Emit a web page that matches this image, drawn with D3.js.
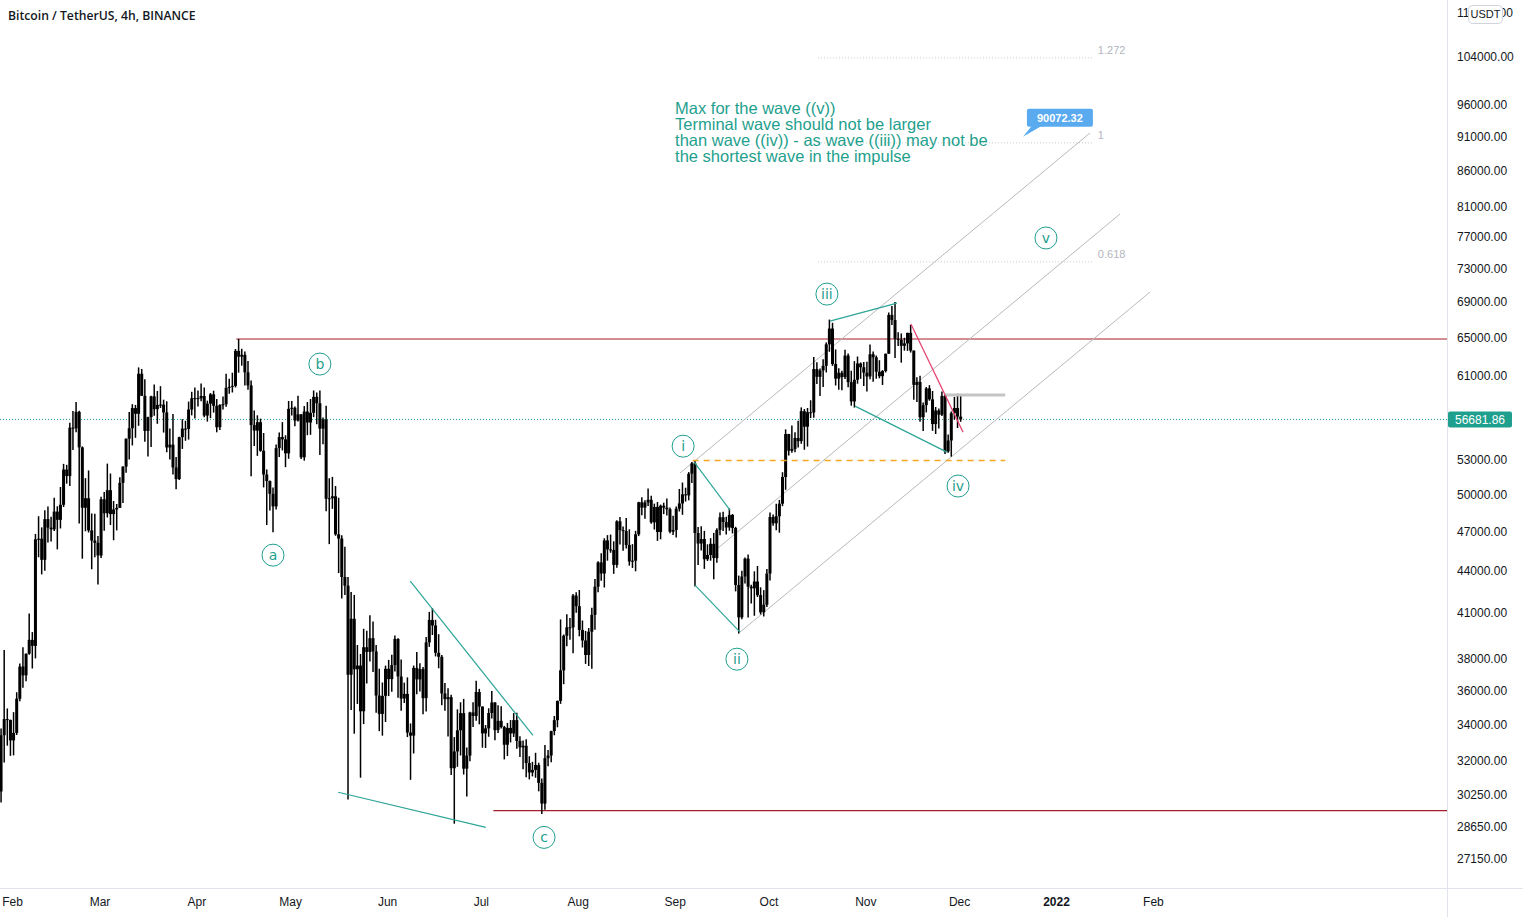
<!DOCTYPE html>
<html><head><meta charset="utf-8">
<script src="https://cdn.jsdelivr.net/npm/d3@7"></script>
<style>html,body{margin:0;padding:0;background:#fff;overflow:hidden}</style>
</head><body>
<svg id="chart" width="1523" height="917"></svg>
<script>
// ---------------- DATA (daily OHLC, BTC/USDT) ----------------
const startDate = "2021-01-28";
const firstOpen = 30400;
const highs = [
 33783,38531,34934,34288,
 34718,35896,37662,38708,38310,40955,39700,46794,48200,47310,48678,48985,48150,49707,49010,50620,52618,52530,56368,57493,58352,57508,54183,51374,52041,48424,48394,46638,
 49790,50200,52640,51773,49448,49200,51450,52402,54900,57387,58150,58081,61844,61683,60633,56938,58986,60100,59451,59930,58589,58430,55830,57200,53229,55073,56700,56559,58405,59368,59800,
 59490,60200,59791,58492,59251,59475,58650,58153,58894,61200,60670,61300,63777,64854,63800,63520,62500,60499,57526,57076,56757,55410,52130,51166,50567,54356,55460,56428,55196,58458,
 58458,57930,58973,57200,57963,58360,58650,59500,59300,59500,56862,58000,51367,51483,50700,49720,46686,45799,43546,42451,42250,38850,38270,39920,39791,40841,40411,38856,37338,36488,37534,
 37896,38225,39476,39289,37925,36480,36800,34068,37534,38400,37680,37451,39380,41064,41330,40527,39560,38200,36457,36137,35750,33298,34881,35298,35500,32730,34749,35297,36600,36100,
 35057,33977,34945,35967,35293,35118,35059,33929,34100,34262,34666,34679,33341,33114,33185,32249,31948,32435,31899,31063,32858,32591,33650,34500,35398,40550,39542,40900,40640,42316,42448,
 42599,40480,39780,39969,41350,43392,44700,45310,46454,46700,46743,46218,47886,48144,47372,48053,47160,46000,47033,49382,49757,49500,50500,49875,49230,49360,49150,49309,49658,48908,48246,
 48999,50450,51000,50558,51900,52780,52920,47340,47399,47033,45987,46460,46876,47250,48500,48557,48163,48843,48372,47359,43639,44000,44978,45200,42971,43950,44350,42790,42590,44132,
 48495,48336,49228,49536,51886,55750,55332,56100,55489,56561,57839,57680,57777,58532,62933,62378,61718,62695,64486,67000,66639,63732,61747,61500,63710,63293,61496,62499,62980,62359,62405,
 62437,64270,63500,63086,62595,61560,63286,67789,68530,69000,65600,65460,64990,65550,66401,63617,60840,60976,58320,59845,60029,59444,57875,57735,59398,59070,55280,57445,58865,59176,
 59041
];
const lows = [
 29842,31915,32825,32270,
 32296,33418,35362,36161,36570,38215,37351,37988,45000,43727,43995,46125,46202,47014,45600,47225,48947,50901,50710,53863,55477,47622,44892,47003,46905,44106,45000,43000,
 44950,47047,48100,47500,46300,47070,48882,49274,51845,53005,54269,54962,56078,58963,54600,53271,54123,57023,56270,57785,55450,53650,53000,51700,50427,51214,53950,54691,54800,57071,56769,
 57935,58428,56880,56478,56800,57333,55473,55700,57630,57903,59177,59300,59800,61301,62020,60000,59580,51541,54221,53329,53695,50583,47500,48658,46930,48753,53223,53813,52330,53068,
 57052,56035,56478,53046,52900,55200,55241,56900,56235,53400,54370,48600,46000,48800,46650,43825,42001,42250,30000,34850,33488,35200,31111,34031,36420,37800,37134,34684,33632,33379,34153,
 35666,35920,37170,35567,34800,35256,33300,31000,32397,35780,35936,34600,34757,38730,39506,38116,37365,35129,34803,33336,31251,28805,31683,32286,31275,30151,31973,33862,34225,34017,
 32712,32699,33316,34357,33125,33532,33777,32077,32261,33004,33306,32658,32202,31550,31133,31020,31179,31108,30407,29278,29482,31708,31924,33401,33851,35205,36383,38772,39200,38313,41000,
 39422,38690,37642,37508,37332,39853,42446,43261,42779,44742,45341,43770,44217,45971,45500,45660,44376,44203,43955,46622,48270,48004,49030,47600,47136,46250,46371,48371,48263,46853,46700,
 46512,48583,48316,49400,49500,50969,42843,44412,45513,44132,44722,44742,43370,44594,46682,47022,46750,47045,46829,42500,39600,40565,43069,40675,41646,40800,42098,40888,40753,41410,
 43283,47430,47088,46891,49022,50382,53357,53617,53661,54080,54415,53879,54167,56818,56850,60150,58963,59844,61322,63481,62000,60000,59562,59510,60650,59817,58000,57820,60174,60673,59945,
 59405,60624,60382,60677,60721,60050,61322,63273,66382,62822,64100,62333,63608,63576,63400,58574,58373,56474,55600,57353,58486,55610,55317,55837,57000,53500,53610,53256,56666,55875,
 56458
];
const closes = [
 33403,34316,34269,33115,
 33533,35510,37473,36926,38290,39186,38795,46374,46420,44807,47969,47287,47153,48577,47911,49133,52119,51552,55906,55842,57408,54087,48891,49676,47073,46276,46106,45135,
 49587,48440,50349,48374,48751,48882,50971,52375,54884,55851,57773,57221,61188,58968,55605,56900,58913,57665,58075,58107,57351,54083,54340,52303,51293,55025,55818,55791,57628,58730,58741,
 58720,58950,57051,58202,59116,57988,55950,58077,58142,59769,59860,59964,63578,62959,63159,61334,60006,56151,55633,56425,53787,51690,51125,50047,49004,54021,55033,54824,53555,57697,
 57798,56578,57169,53200,57436,56393,57314,58862,58240,55816,56670,49631,49670,49841,46762,46431,43538,42909,36964,40596,37304,37536,34770,38705,38402,39295,38436,35697,34616,35678,37333,
 36693,37569,39248,36857,35521,35796,33553,33380,37389,36676,37313,35543,39021,40516,40144,38349,38092,35820,35483,35600,31608,32509,33678,34663,31584,32283,34700,34494,35911,35045,
 33504,33786,34669,35286,33690,34220,33862,32875,33815,33502,34259,33086,32729,32820,31880,31383,31520,31778,30839,29790,32144,32287,33634,34258,35381,37237,39457,40019,40016,42206,41461,
 39845,39147,38207,39723,40862,42836,44614,43792,46285,45594,45554,44428,47793,47096,47019,45936,44686,44741,46762,49340,48905,49321,49546,47706,48960,46942,49058,48897,48767,46970,47100,
 48810,49246,49999,49915,51756,52663,46864,46048,46395,44851,45174,46026,44941,47112,48121,47738,47300,48314,47261,42960,40693,43574,44895,42839,42717,43208,42236,41034,41564,43790,
 48141,47634,48200,49224,51471,55315,53785,53951,54949,54659,57471,55996,57367,57347,61672,60875,61528,62009,64280,66001,62193,60688,61286,60852,63078,60328,58413,60575,62253,61859,61299,
 60911,63219,62896,61395,60937,61470,63273,67525,66947,64882,64774,64122,64380,65519,63606,60058,60344,56891,58052,59707,58622,56247,57541,57138,58960,53726,54721,57274,57776,56950,
 56681.86
];

// axis ticks
const priceTicks = [27150,28650,30250,32000,34000,36000,38000,41000,44000,47000,50000,53000,61000,65000,69000,73000,77000,81000,86000,91000,96000,104000,112000];
const monthTicks = ["2021-02-01","2021-03-01","2021-04-01","2021-05-01","2021-06-01","2021-07-01","2021-08-01","2021-09-01","2021-10-01","2021-11-01","2021-12-01","2022-01-01","2022-02-01"];
const monthLabels = ["Feb","Mar","Apr","May","Jun","Jul","Aug","Sep","Oct","Nov","Dec","2022","Feb"];

// drawings
const lastPrice = 56681.86;
const resistanceRay = {start:"2021-04-13T18:00:00Z", price:64854};
const supportRay = {start:"2021-07-05T00:00:00Z", price:29440};
const orangeLevel = {from:"2021-09-06T18:00:00Z", to:"2021-12-15T18:00:00Z", price:52920};
const grayLevel = {from:"2021-11-26T12:00:00Z", to:"2021-12-15T18:00:00Z", price:59050};
const waveLines = [
  [["2021-06-08T10:00:00Z",43240],["2021-07-17T16:00:00Z",33400]],
  [["2021-05-16T08:00:00Z",30360],["2021-07-02T14:00:00Z",28630]],
  [["2021-09-07T06:00:00Z",52770],["2021-09-18T17:00:00Z",48700]],
  [["2021-09-07T12:00:00Z",42950],["2021-09-21T22:00:00Z",39700]],
  [["2021-10-20T16:00:00Z",66830],["2021-11-11T03:00:00Z",68880]],
  [["2021-10-28T17:00:00Z",57960],["2021-11-27T03:00:00Z",53660]]
];
const pinkLine = [["2021-11-15T14:00:00Z",66500],["2021-12-02T06:00:00Z",55490]];
const channelLines = [
  [["2021-09-02T17:00:00Z",51810],["2022-01-11T21:00:00Z",91570]],
  [["2021-09-14T21:00:00Z",45700],["2022-01-21T12:00:00Z",79960]],
  [["2021-09-21T22:00:00Z",39700],["2022-01-31T02:00:00Z",70160]]
];
const fibRange = ["2021-10-16T21:00:00Z","2022-01-12T19:00:00Z"];
const fibLabels = ["0.618","1","1.272"];
const fibPrices = [73800, 90072.32, 103850];
const calloutAnchor = ["2021-12-21T10:00:00Z", 90072.32];
const calloutText = "90072.32";
const waveLabelNames = ["a","b","c","i","ii","iii","iv","v"];
const waveLabelDates = ["2021-04-25T12:00:00Z","2021-05-10T12:00:00Z","2021-07-21T05:00:00Z","2021-09-03T17:00:00Z","2021-09-20T22:00:00Z","2021-10-19T17:00:00Z","2021-11-30T16:00:00Z","2021-12-28T19:00:00Z"];
const waveLabelPrices = [45160,62190,28150,54200,37940,69920,50700,76810];
const noteAnchor = ["2021-09-01T03:00:00Z", 95480];
const noteLines = ["Max for the wave ((v))","Terminal wave should not be larger","than wave ((iv)) - as wave ((iii)) may not be","the shortest wave in the impulse"];
const title = "Bitcoin / TetherUS, 4h, BINANCE";

// ---------------- CHART ----------------
const W = 1523, H = 917, plotR = 1447, plotB = 888;
const svg = d3.select("#chart");
const fontAxis = "'Liberation Sans', Arial, sans-serif";
const teal = "#1f9f8e";

const x = d3.scaleUtc().domain([new Date(Date.UTC(2021,1,1)), new Date(Date.UTC(2022,0,1))]).range([12, 1056]);
const y = d3.scaleLog().domain([27150, 104000]).range([859, 57]);
const P = d => [x(new Date(d[0])), y(d[1])];

svg.append("rect").attr("width",W).attr("height",H).attr("fill","#fff");
svg.append("defs").append("clipPath").attr("id","plot").append("rect").attr("x",0).attr("y",0).attr("width",plotR).attr("height",plotB);
const g = svg.append("g").attr("clip-path","url(#plot)");

// candles
const DAY = 86400000, t0 = Date.parse(startDate + "T00:00:00Z");
const candles = closes.map((c,i) => ({t:new Date(t0 + i*DAY + DAY/2), o: i ? closes[i-1] : firstOpen, h: highs[i], l: lows[i], c}));

// horizontal lines
g.append("line").attr("x1",0).attr("x2",plotR).attr("y1",y(lastPrice)).attr("y2",y(lastPrice))
  .attr("stroke",teal).attr("stroke-width",1).attr("stroke-dasharray","1,2");
g.append("line").attr("x1",x(new Date(resistanceRay.start))).attr("x2",plotR).attr("y1",y(resistanceRay.price)).attr("y2",y(resistanceRay.price))
  .attr("stroke","#a61d29").attr("stroke-width",1.1);
g.append("line").attr("x1",x(new Date(supportRay.start))).attr("x2",plotR).attr("y1",y(supportRay.price)).attr("y2",y(supportRay.price))
  .attr("stroke","#a61d29").attr("stroke-width",1.1);

// fib levels
fibPrices.forEach((p,i) => {
  const yy = y(p), x2 = x(new Date(fibRange[1]));
  g.append("line").attr("x1",x(new Date(fibRange[0]))).attr("x2",x2).attr("y1",yy).attr("y2",yy)
    .attr("stroke","#c9ccd3").attr("stroke-width",1).attr("stroke-dasharray","1,2");
  g.append("text").attr("x",x2+5).attr("y",yy-4).text(fibLabels[i])
    .attr("font-family",fontAxis).attr("font-size",11).attr("fill","#b2b5be");
});

// channel
channelLines.forEach(l => {
  const a = P(l[0]), b = P(l[1]);
  g.append("line").attr("x1",a[0]).attr("y1",a[1]).attr("x2",b[0]).attr("y2",b[1]).attr("stroke","#b9b9b9").attr("stroke-width",1);
});

// candles drawn
const cg = g.append("g");
cg.selectAll("line.w").data(candles).join("line").attr("class","w")
  .attr("x1",d=>x(d.t)).attr("x2",d=>x(d.t)).attr("y1",d=>y(d.h)).attr("y2",d=>y(d.l))
  .attr("stroke","#000").attr("stroke-width",1.5);
cg.selectAll("rect.b").data(candles).join("rect").attr("class","b")
  .attr("x",d=>x(d.t)-1.5).attr("width",3)
  .attr("y",d=>y(Math.max(d.o,d.c))).attr("height",d=>Math.max(1, y(Math.min(d.o,d.c)) - y(Math.max(d.o,d.c))))
  .attr("fill","#000");

// orange dashed & gray level
g.append("line").attr("x1",x(new Date(orangeLevel.from))).attr("x2",x(new Date(orangeLevel.to)))
  .attr("y1",y(orangeLevel.price)).attr("y2",y(orangeLevel.price))
  .attr("stroke","#f6a623").attr("stroke-width",1.5).attr("stroke-dasharray","6,5");
g.append("line").attr("x1",x(new Date(grayLevel.from))).attr("x2",x(new Date(grayLevel.to)))
  .attr("y1",y(grayLevel.price)).attr("y2",y(grayLevel.price))
  .attr("stroke","#c4c4c4").attr("stroke-width",3);

// wave lines
waveLines.forEach(l => {
  const a = P(l[0]), b = P(l[1]);
  g.append("line").attr("x1",a[0]).attr("y1",a[1]).attr("x2",b[0]).attr("y2",b[1]).attr("stroke","#2ca597").attr("stroke-width",1.2);
});
{
  const a = P(pinkLine[0]), b = P(pinkLine[1]);
  g.append("line").attr("x1",a[0]).attr("y1",a[1]).attr("x2",b[0]).attr("y2",b[1]).attr("stroke","#e5406f").attr("stroke-width",1.2);
}

// wave labels
waveLabelNames.forEach((n,i) => {
  const cx = x(new Date(waveLabelDates[i])), cy = y(waveLabelPrices[i]);
  g.append("circle").attr("cx",cx).attr("cy",cy).attr("r",11).attr("fill","#fff").attr("stroke",teal).attr("stroke-width",1);
  g.append("text").attr("x",cx).attr("y",cy).attr("dy","0.35em").attr("text-anchor","middle").text(n)
    .attr("font-family","'DejaVu Sans', sans-serif").attr("font-size",14).attr("fill",teal);
});

// note text
{
  const nx = x(new Date(noteAnchor[0])), ny = y(noteAnchor[1]);
  const t = g.append("text").attr("font-family",fontAxis).attr("font-size",16.5).attr("fill",teal);
  noteLines.forEach((s,i) => t.append("tspan").attr("x",nx).attr("y",ny + i*16).attr("dy","0.35em").text(s));
}

// callout
{
  const ax = x(new Date(calloutAnchor[0])), ay = y(calloutAnchor[1]);
  const cg2 = g.append("g");
  cg2.append("path").attr("d",`M${ax+9},${ay-17} L${ax+19},${ay-17} L${ax},${ay-6} Z`).attr("fill","#5aaaf0");
  cg2.append("rect").attr("x",ax+4).attr("y",ay-34).attr("width",66).attr("height",18).attr("rx",2).attr("fill","#5aaaf0");
  cg2.append("text").attr("x",ax+37).attr("y",ay-25).attr("dy","0.35em").attr("text-anchor","middle").text(calloutText)
    .attr("font-family",fontAxis).attr("font-size",11).attr("font-weight","bold").attr("fill","#fff");
}

// borders
svg.append("line").attr("x1",plotR+0.5).attr("x2",plotR+0.5).attr("y1",0).attr("y2",H).attr("stroke","#e0e3eb");
svg.append("line").attr("x1",0).attr("x2",W).attr("y1",plotB+0.5).attr("y2",plotB+0.5).attr("stroke","#e0e3eb");

// y axis
const yAxis = svg.append("g").attr("transform",`translate(${plotR},0)`)
  .call(d3.axisRight(y).tickValues(priceTicks).tickFormat(d => d.toFixed(2)).tickSize(0).tickPadding(10));
yAxis.select(".domain").remove();
yAxis.selectAll("text").attr("font-family",fontAxis).attr("font-size",12).attr("fill","#131722");

// x axis
const xAxis = svg.append("g").attr("transform",`translate(0,${plotB})`)
  .call(d3.axisBottom(x).tickValues(monthTicks.map(d=>new Date(d+"T00:00:00Z"))).tickFormat((d,i)=>monthLabels[i]).tickSize(0).tickPadding(9));
xAxis.select(".domain").remove();
xAxis.selectAll("text").attr("font-family",fontAxis).attr("font-size",12).attr("fill","#131722")
  .attr("font-weight",(d,i)=>monthLabels[i]==="2022" ? "bold" : "normal");

// last price label
{
  const yy = y(lastPrice);
  svg.append("rect").attr("x",plotR+1).attr("y",yy-8).attr("width",64).attr("height",16).attr("rx",2).attr("fill",teal);
  svg.append("text").attr("x",plotR+33).attr("y",yy).attr("dy","0.35em").attr("text-anchor","middle").text(lastPrice.toFixed(2))
    .attr("font-family",fontAxis).attr("font-size",12).attr("fill","#fff");
}

// currency box
svg.append("rect").attr("x",1468.5).attr("y",5.5).attr("width",34).attr("height",18).attr("rx",4).attr("fill","#fff").attr("stroke","#d1d4dc");
svg.append("text").attr("x",1485.5).attr("y",14.5).attr("dy","0.35em").attr("text-anchor","middle").text("USDT")
  .attr("font-family",fontAxis).attr("font-size",11).attr("fill","#131722");

// title
svg.append("text").attr("x",8).attr("y",16).attr("dy","0.35em").text(title)
  .attr("font-family","'Open Sans', sans-serif").attr("font-size",12.2).attr("font-weight",600).attr("fill","#131722");
</script>
</body></html>
